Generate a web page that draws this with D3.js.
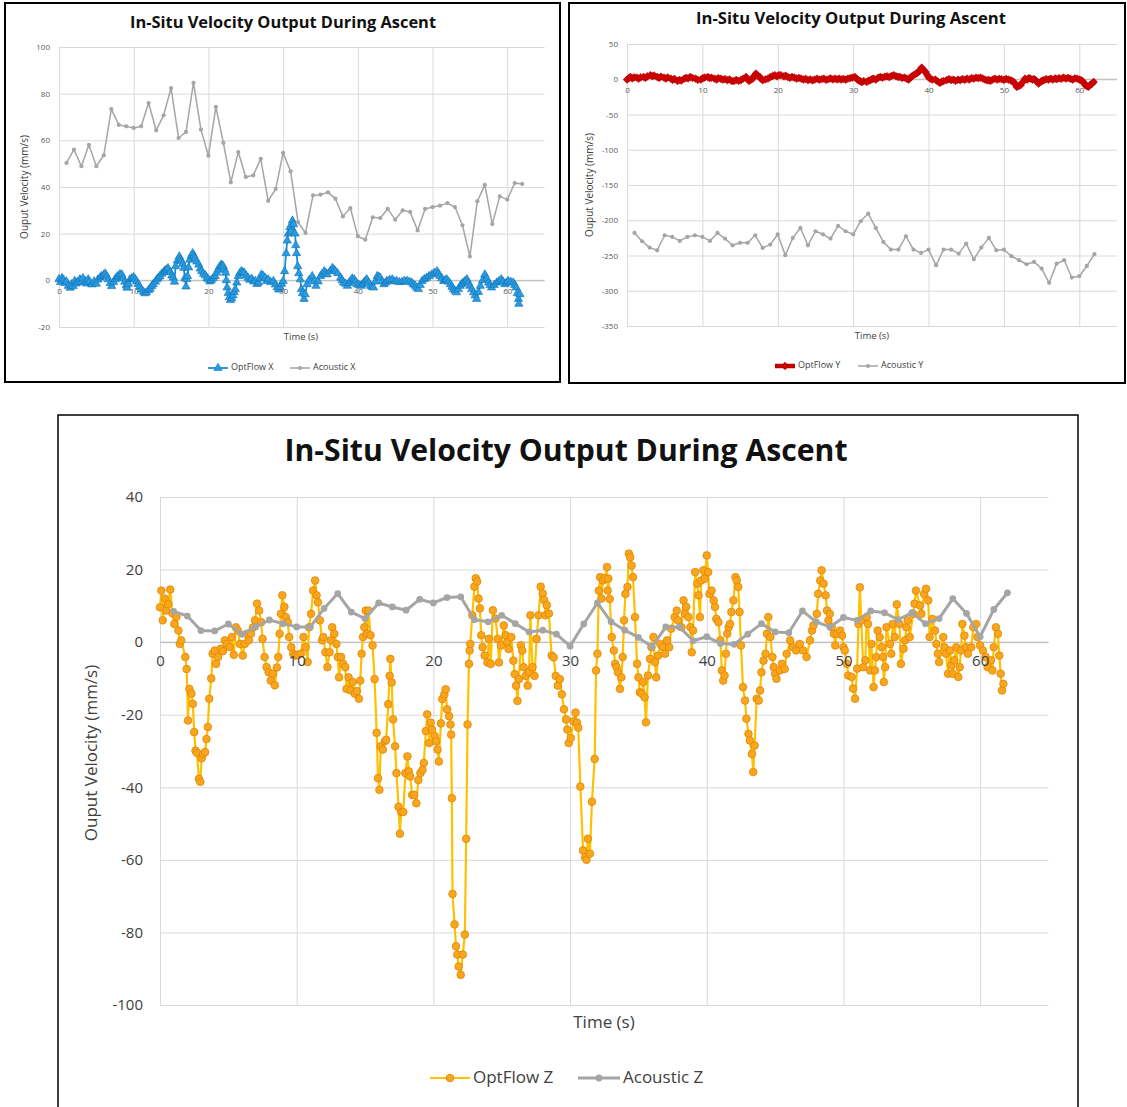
<!DOCTYPE html>
<html>
<head>
<meta charset="utf-8">
<script src="https://cdn.jsdelivr.net/npm/d3@7"></script>
<style>
body { margin: 0; background: #fff; }
text { font-family: "Open Sans", sans-serif; }
</style>
</head>
<body>
<div id="chart"></div>
<script>
// ---- data ----
var acousticTime = [1,2,3,4,5,6,7,8,9,10,11,12,13,14,15,16,17,18,19,20,21,22,23,24,25,26,27,28,29,30,
    31,32,33,34,35,36,37,38,39,40,41,42,43,44,45,46,47,48,49,50,51,52,53,54,55,56,57,58,59,60,61,62];

var acousticX = [50.3,56,48.9,58.1,48.9,53.6,73.4,66.6,66,65.3,66,76,64.3,70.7,82.4,61,63.6,84.6,64.6,53.4,
    74.3,58.9,42,55,44.3,45,52.1,34.1,39.1,54.6,46.7,24.9,20.3,36.4,36.7,37.7,35,27.4,31,18.9,
    17.4,27,26.7,30.6,26,30,29.3,21.4,30.6,31.4,32,33.1,31.4,23.6,10.3,33.9,40.9,24.1,36,34.6,41.7,41.3];

var acousticY = [-218,-229.8,-238.8,-242.6,-221.3,-223.6,-229.3,-223.6,-221.3,-223.6,
    -229.3,-218,-226,-235.5,-232,-232,-221.3,-239.2,-234.5,-219.9,
    -249.6,-225,-210.9,-235.5,-215.6,-219.9,-226,-208,-215.6,-219.9,
    -201.4,-190.5,-210.9,-230.7,-241.6,-241.6,-222.7,-241.6,-246.3,-241.6,
    -263.8,-241.6,-241.6,-247.3,-233.1,-255.3,-238.8,-225,-242.6,-241.6,
    -251,-256.7,-262.4,-259.1,-268.5,-288.7,-261.5,-256.7,-281.3,-279.4,-264.8,-248.2];

var acousticZ = [8.5,7.2,3.2,3.1,5,2.2,4.2,6.1,5.1,4.2,4.2,9.3,13.4,8.3,6.5,10.8,9.7,8.8,11.8,10.8,
    12.3,12.5,6.2,5.6,7.4,5.1,2.8,3.3,2.2,-1.1,5,10.8,5.6,3.3,1.3,-1.3,4.2,4.2,0.4,1.5,
    -0.4,-0.6,2.2,5.1,2.8,2.6,8.6,5.6,4.2,6.8,6,8.6,8.1,6.2,8.1,5.1,6.5,12,7.9,1.5,9,13.6];

// optical flow samples: [time (s), velocity (mm/s)]
var optFlowX = [[0,0.5],[0.2,-0.8],[0.4,1],[0.6,0.2],[0.8,-1.2],[1,-0.5],[1.25,-2.4],[1.5,-3.2],[1.7,-1.7],[1.9,-2.5],
    [2.1,-0.3],[2.3,-1.4],[2.5,-0.6],[2.8,0.4],[3,-0.9],[3.2,0.9],[3.5,-0.3],[3.7,-1.4],[3.9,0.4],[4.1,-0.6],
    [4.4,-1.8],[4.7,-0.5],[5,-1.5],[5.2,0.3],[5.5,1.2],[5.7,1.8],[6,2.4],[6.2,2.9],[6.4,1.6],[6.6,0.4],
    [6.85,-1.2],[7.05,-2.5],[7.3,-0.8],[7.5,0.4],[7.7,1.2],[7.9,1.8],[8.15,2.6],[8.4,2.5],[8.6,0.8],[8.8,-0.6],
    [9,-2.2],[9.1,-3.2],[9.3,-1.5],[9.5,0.4],[9.75,0.9],[10,1.3],[10.2,0.4],[10.4,-0.5],[10.6,-1.6],[10.8,-2.7],
    [11,-4],[11.3,-4.9],[11.5,-5.6],[11.7,-5.2],[12,-4.2],[12.2,-3.6],[12.4,-2.5],[12.6,-1.7],[12.9,-0.6],[13.1,0.4],
    [13.3,1.1],[13.5,1.8],[13.75,2.8],[14,3.5],[14.2,4.2],[14.4,4.6],[14.6,5.2],[14.9,3.5],[15.1,2],[15.3,1.1],
    [15.45,-0.6],[15.6,6],[15.85,8.5],[16.1,10.2],[16.25,9],[16.4,8.1],[16.55,7],[16.7,5.3],[16.85,1],[17,-2.7],
    [17.1,0.5],[17.2,1.8],[17.35,5.5],[17.5,8.8],[17.7,10.5],[17.9,11.6],[18.05,10.5],[18.2,9.5],[18.45,8],[18.7,6.7],
    [18.9,5],[19.1,3.9],[19.35,2.8],[19.6,2.1],[19.8,1],[20,0.4],[20.2,-0.5],[20.4,0.1],[20.65,1],[20.9,1.8],
    [21.1,3.3],[21.3,4.6],[21.5,5.8],[21.7,6.7],[21.85,6.3],[22,6],[22.15,4.5],[22.3,3.2],[22.4,0],[22.5,-3.1],
    [22.65,-5.5],[22.8,-7.3],[22.95,-8.5],[23.1,-7.7],[23.3,-6.5],[23.45,-5],[23.6,-3.8],[23.8,-1],[24,1.8],[24.2,3],
    [24.4,3.9],[24.6,3.5],[24.8,3.2],[25.05,2],[25.3,1.1],[25.55,0.2],[25.8,0.7],[26.05,-0.5],[26.3,-0.3],[26.5,-1.6],
    [26.7,-1],[26.9,0.8],[27.1,2.5],[27.35,1.8],[27.6,1.1],[27.8,-0.3],[28,0.4],[28.35,-0.8],[28.7,-0.3],[28.95,-1.8],
    [29.2,-3],[29.4,-4],[29.6,-3],[29.8,-1.5],[30,-0.3],[30.2,3.9],[30.4,11.6],[30.55,17],[30.7,20],[30.9,22.8],
    [31.05,21],[31.25,25.6],[31.4,24],[31.6,20],[31.7,15],[31.8,11.6],[31.95,6],[32.1,3],[32.3,0.4],[32.45,-3.8],
    [32.6,-5.5],[32.8,-8],[32.95,-6],[33.2,-1.7],[33.5,0.2],[33.9,1.8],[34.15,-0.5],[34.4,-2.4],[34.7,-0.5],[35,1.8],
    [35.25,2.8],[35.5,3.9],[35.7,3.2],[35.9,2.5],[36.3,4],[36.6,5.3],[36.8,4.6],[37,3.9],[37.3,3],[37.7,1.1],
    [37.9,0],[38.1,-1],[38.35,-1.5],[38.6,-2.4],[38.8,-1.2],[39,-0.3],[39.25,0.8],[39.5,0.4],[39.7,-0.6],[39.9,-1.7],
    [40.15,-2],[40.4,-2.4],[40.6,-1.8],[40.8,-1],[41,-0.2],[41.2,0.4],[41.45,-1],[41.7,-2.4],[41.9,-2.8],[42.1,-3.1],
    [42.35,-0.5],[42.6,1.8],[42.8,1.5],[43,1.1],[43.25,-0.5],[43.5,-1.7],[43.7,-1],[43.9,-0.3],[44.25,0.2],[44.6,0.4],
    [44.9,-0.5],[45.2,-0.3],[45.55,-0.8],[45.9,-0.7],[46.25,-0.2],[46.6,-0.3],[46.9,-0.6],[47.2,-1],[47.45,-1.8],[47.7,-2.4],
    [47.9,-3.2],[48.1,-3.8],[48.35,-2],[48.6,-0.3],[48.9,0.5],[49.2,1.1],[49.55,1.8],[49.9,2.5],[50.25,3.2],[50.6,3.9],
    [50.8,2.8],[51,1.8],[51.25,0.8],[51.5,-0.3],[51.7,0],[51.9,0.4],[52.15,-0.6],[52.4,-1.7],[52.6,-2.8],[52.8,-3.8],
    [53,-4.5],[53.2,-5.2],[53.45,-3.8],[53.7,-2.4],[53.9,-1.7],[54.1,-1],[54.35,-0.3],[54.6,0.4],[54.8,-1],[55,-2.4],
    [55.25,-3.8],[55.5,-5.2],[55.7,-6.5],[55.9,-8],[56.15,-5],[56.4,-2.4],[56.7,0],[57,2.5],[57.25,0.8],[57.5,-1],
    [57.7,-2],[57.9,-3.1],[58.25,-2],[58.6,-1],[58.9,-0.3],[59.2,0.4],[59.45,-0.6],[59.7,-1.7],[59.9,-1],[60.1,-0.3],
    [60.45,-0.6],[60.8,-1],[61,-2],[61.2,-3.1],[61.35,-5.5],[61.5,-8],[61.55,-10.1],[61.7,-6]];

var optFlowY = [[0,-0.5],[0.25,1.5],[0.45,3.3],[0.7,1.2],[0.95,2.8],[1.3,2.4],[1.55,0.8],[1.8,2.6],[2.2,3.3],[2.45,1.8],
    [2.7,4.2],[3.1,5.7],[3.35,4.5],[3.6,5.2],[4,3.3],[4.25,2],[4.5,3.6],[4.9,2.4],[5.15,1],[5.4,2.5],
    [5.8,0.9],[6.05,-0.8],[6.3,0.5],[6.7,-2.4],[6.95,-1],[7.2,-1.8],[7.6,0.9],[7.85,2],[8.1,1.2],[8.4,3.3],
    [8.7,1.8],[9.1,0.9],[9.4,-0.8],[9.8,-0.5],[10.05,1.5],[10.3,2.4],[10.7,3.3],[10.95,1.6],[11.2,2.2],[11.6,0.9],
    [11.9,-0.5],[12.1,1.5],[12.4,0.9],[12.7,-0.6],[13,0.3],[13.3,-1.4],[13.6,-0.2],[13.9,-2.6],[14.2,-2.4],[14.5,-1],
    [14.8,-2.2],[15.1,-1.4],[15.4,0.8],[15.8,3.3],[16,0],[16.2,-2.4],[16.45,-0.5],[16.7,0.9],[16.9,5],[17.1,8],
    [17.35,5.5],[17.6,3.3],[17.8,0.5],[18,-1.4],[18.35,-0.2],[18.7,0.9],[19,3],[19.3,4.5],[19.6,5.7],[19.9,4.2],
    [20.15,6],[20.4,5.7],[20.8,4.2],[21.05,5],[21.3,3.3],[21.6,2],[21.9,3.2],[22.2,2.4],[22.5,1],[22.8,1.8],
    [23.1,0.9],[23.4,-0.4],[23.7,0.6],[24,-1.4],[24.3,-0.3],[24.6,-1.6],[24.9,-0.5],[25.2,0.8],[25.5,-0.6],[25.8,0],
    [26.1,1],[26.4,-0.8],[26.7,0],[27,1.2],[27.3,-0.2],[27.6,0.9],[27.9,-0.3],[28.15,0.8],[28.4,-0.5],[28.7,0.5],
    [29,-0.6],[29.3,0.9],[29.6,1.5],[29.9,2.2],[30.2,3.3],[30.45,1],[30.7,-1.5],[30.9,-2.4],[31.15,-4.2],[31.4,-2.6],
    [31.8,-3.8],[32.05,-2],[32.3,-1.4],[32.5,0.3],[32.7,0.9],[33,-0.5],[33.3,2],[33.6,3.3],[33.9,2.2],[34.2,3.6],
    [34.5,4.2],[34.8,3],[35.1,4.8],[35.4,5.7],[35.7,4.2],[35.95,3.3],[36.2,3.3],[36.5,1.8],[36.8,2.4],[37.1,0.9],
    [37.35,-0.6],[37.6,2.4],[37.8,4],[38,5.7],[38.3,7.5],[38.5,9],[38.7,10.4],[38.9,13.5],[39.1,16.5],[39.35,13],
    [39.6,10.4],[39.8,6.5],[40,3],[40.2,0.9],[40.5,-0.5],[40.9,-0.5],[41.2,-3],[41.5,-5.2],[41.75,-3.5],[42,-2.6],
    [42.4,-1.4],[42.7,0.2],[43,-1.2],[43.3,-0.5],[43.6,-2.2],[43.9,-0.6],[44.2,-1.4],[44.5,0.3],[44.8,-0.8],[45.1,0.9],
    [45.4,-0.4],[45.7,1.6],[46,0.9],[46.3,2.2],[46.6,1.5],[46.9,2.4],[47.2,1],[47.5,-0.5],[47.8,-1.6],[48,-1],
    [48.2,-2.4],[48.5,-0.6],[48.8,0.9],[49.1,-0.5],[49.4,0.6],[49.7,0],[50,-1],[50.3,0.4],[50.6,-0.5],[50.9,-1.5],
    [51.1,-2.6],[51.3,-3.8],[51.5,-7],[51.7,-10.9],[51.95,-9.6],[52.2,-8.5],[52.5,-4],[52.8,0.9],[53.1,-0.4],[53.3,1.6],
    [53.5,0.9],[53.8,-0.5],[54,0.2],[54.2,-1.4],[54.4,-3.5],[54.6,-6.1],[54.9,-3.5],[55.1,-2],[55.3,-1.4],[55.6,0.2],
    [55.9,-0.6],[56.2,0.9],[56.5,-0.4],[56.8,1.2],[57,0],[57.3,1.5],[57.6,0.6],[57.9,2.4],[58.2,1],[58.5,2],
    [58.8,0.9],[59.1,-0.5],[59.4,1.2],[59.7,0.9],[60,-0.4],[60.2,-1.2],[60.4,-2.4],[60.6,-5],[60.8,-8.5],[61,-9.8],
    [61.2,-10.9],[61.45,-8],[61.7,-6.1],[61.9,-3.8]];

var optFlowZ = [[0,9.6],[0.1,14.2],[0.2,6],[0.35,12],[0.45,8.7],[0.6,10.5],[0.75,14.5],[0.9,8],[1.05,5],[1.2,7],
    [1.35,3.2],[1.45,-0.5],[1.55,0.5],[1.85,-4.1],[1.95,-7.4],[2.05,-21.6],[2.15,-12.9],[2.3,-14.2],[2.4,-17],[2.5,-24.8],
    [2.6,-29.9],[2.7,-30.5],[2.85,-37.7],[2.95,-38.5],[3.05,-32],[3.15,-30.8],[3.3,-30.3],[3.4,-26.7],[3.5,-23.4],[3.6,-15.6],
    [3.75,-10],[3.85,-3.2],[4,-2.3],[4.1,-6],[4.25,-4.1],[4.45,-1.8],[4.6,-2.5],[4.75,0.5],[4.9,-0.5],[5.1,-1.4],
    [5.25,1.4],[5.4,-3.5],[5.55,4.1],[5.7,3.2],[5.85,-0.5],[6.05,-3.7],[6.2,-0.5],[6.35,2.3],[6.5,0.5],[6.65,2.3],
    [6.8,4],[6.95,6],[7.1,10.6],[7.25,8.7],[7.4,5.5],[7.5,0.9],[7.65,-4.1],[7.8,-6.9],[7.95,-8.3],[8.1,-10.6],
    [8.25,-8.7],[8.4,-11.9],[8.55,-7],[8.65,-4.1],[8.75,2.3],[8.85,7.8],[8.95,12.9],[9.1,9.7],[9.2,6.9],[9.35,5.5],
    [9.45,1.4],[9.6,-1.4],[9.75,-3.2],[9.9,-3.7],[10.1,-3.5],[10.3,-3.2],[10.5,1.4],[10.65,-1.4],[10.8,-5.5],[10.9,4.1],
    [11.05,7.8],[11.2,14.2],[11.35,17],[11.45,12.9],[11.55,11],[11.7,6],[11.85,0.5],[11.95,1.4],[12.1,-2.8],[12.25,-6.9],
    [12.4,-2.8],[12.5,0.5],[12.6,4.1],[12.75,2.3],[12.9,-0.5],[13,-4.1],[13.1,-9.7],[13.25,-4.1],[13.4,-6],[13.55,-6.9],
    [13.65,-12.9],[13.8,-9.7],[13.95,-13.3],[14.1,-11],[14.25,-14.2],[14.4,-13.5],[14.55,-15.6],[14.65,-10.6],[14.75,-3.2],[14.85,1.4],
    [14.95,4.1],[15.05,8.7],[15.15,2.3],[15.25,8.7],[15.4,1.9],[15.55,-0.9],[15.7,-10.2],[15.85,-25],[15.95,-37.5],[16.05,-40.7],
    [16.15,-28.7],[16.3,-29.6],[16.45,-27.3],[16.55,-26.9],[16.7,-17.1],[16.8,-9.3],[16.85,-4.6],[16.95,-11.1],[17.05,-21.3],[17.2,-28.7],
    [17.3,-36.1],[17.45,-45.4],[17.55,-52.8],[17.65,-46.8],[17.8,-46.8],[17.95,-36.1],[18.1,-31.5],[18.2,-35.6],[18.3,-37],[18.45,-42.1],
    [18.6,-42.1],[18.75,-44.4],[18.9,-38],[19.05,-36.1],[19.2,-35.2],[19.3,-33.3],[19.45,-24.5],[19.55,-19.9],[19.7,-27.8],[19.8,-22.2],
    [19.9,-24.1],[20.1,-25.9],[20.2,-27.3],[20.3,-29.6],[20.4,-32.9],[20.55,-22.4],[20.65,-15.7],[20.8,-14.4],[20.9,-13],[21,-18.5],
    [21.15,-20.4],[21.25,-22.7],[21.3,-25.5],[21.35,-43],[21.4,-69.4],[21.55,-77.8],[21.65,-83.8],[21.75,-86.1],[21.85,-89.4],[22,-91.7],
    [22.15,-86.1],[22.3,-80.6],[22.4,-54.2],[22.5,-22.7],[22.6,-6],[22.65,-2.3],[22.7,-0.5],[22.85,7.4],[23,15.3],[23.1,17.6],
    [23.2,16.7],[23.3,12],[23.4,9.3],[23.5,1.9],[23.6,-1.4],[23.75,-3.7],[23.95,-5.6],[24.05,0.9],[24.2,-6],[24.35,8.8],
    [24.55,6.5],[24.7,0.9],[24.8,-5.6],[24.95,-0.9],[25.15,4.6],[25.3,1.9],[25.4,0],[25.5,-1.9],[25.7,1.4],[25.85,-5.1],
    [25.95,-8.8],[26.05,-12],[26.15,-16.2],[26.25,-10.2],[26.4,-0.9],[26.5,-2.3],[26.6,-6.9],[26.75,-9.3],[26.9,-12],[27,-8.3],
    [27.1,7.4],[27.25,-6.9],[27.4,-9.3],[27.55,0.9],[27.7,7.4],[27.85,15.3],[28,13.4],[28.1,11.6],[28.2,7.4],[28.3,10.2],
    [28.45,7.9],[28.65,-3.7],[28.8,-4.2],[28.95,-9.3],[29.1,-12],[29.25,-10.2],[29.4,-14.4],[29.55,-18.5],[29.7,-21.3],[29.8,-24.1],
    [29.9,-27.8],[30.05,-26.4],[30.25,-21.8],[30.4,-19.4],[30.5,-22.2],[30.6,-23.6],[30.75,-39.8],[30.95,-57.4],[31.1,-59.3],[31.2,-60],
    [31.3,-54.2],[31.45,-58.3],[31.6,-44],[31.8,-32.2],[31.9,-7.8],[32,-3.2],[32.1,14.2],[32.2,17.9],[32.3,12],[32.4,17],
    [32.55,17.6],[32.7,20.7],[32.75,14.2],[32.8,17.5],[32.9,11.9],[33.05,1.4],[33.2,-2.3],[33.3,-6],[33.4,-6.9],[33.5,-8.3],
    [33.65,-12.9],[33.75,-9.7],[33.85,-4.1],[33.95,6],[34.05,13.3],[34.2,15.2],[34.3,24.4],[34.4,23.4],[34.5,21.1],[34.6,17.9],
    [34.75,6.9],[34.9,-6],[35,-9.7],[35.1,-13.8],[35.25,-14.2],[35.35,-11],[35.45,-15.2],[35.55,-22.1],[35.7,-9.2],[35.85,-4.6],
    [35.95,-1.4],[36.1,1.4],[36.2,-5.5],[36.3,-9.7],[36.45,-3.7],[36.6,-0.5],[36.8,-1.4],[36.95,-3.2],[37.1,0.5],[37.25,-1.4],
    [37.4,3.7],[37.65,6.9],[37.8,8.7],[37.9,6],[38.15,4.1],[38.3,11.5],[38.4,7.8],[38.5,9.7],[38.65,6.9],[38.8,4.1],
    [38.9,-2.8],[39,3.2],[39.15,19.3],[39.3,16.1],[39.4,12.9],[39.5,6.9],[39.6,17],[39.75,19.8],[39.85,17.5],[40,23.9],
    [40.1,19.3],[40.2,13.3],[40.35,14.2],[40.5,11.5],[40.6,9.7],[40.7,6.4],[40.85,5.5],[41,0.5],[41.1,-7.8],[41.2,-10.6],
    [41.3,-9.2],[41.4,-3.2],[41.5,2.3],[41.6,4.1],[41.7,5],[41.8,8.3],[41.95,11.5],[42.1,17.9],[42.2,17],[42.3,15.2],
    [42.4,8.3],[42.5,-0.9],[42.65,-12.4],[42.8,-16.1],[42.9,-21.1],[43.05,-25.3],[43.15,-27.1],[43.3,-30.8],[43.4,-35.8],[43.5,-28.5],
    [43.65,-15.6],[43.8,-16.1],[43.9,-13.3],[44,-8.3],[44.15,-5.1],[44.3,-3.2],[44.4,2.3],[44.5,6.9],[44.65,1.4],[44.8,-4.1],
    [44.9,-6.9],[45,-8.7],[45.1,-10.1],[45.35,-7.8],[45.5,-6],[45.7,-7.4],[45.85,-3.2],[46.1,0.5],[46.3,-1.4],[46.55,-2.3],
    [46.8,-0.5],[47.05,-2.3],[47.3,-4.1],[47.55,0.5],[47.7,3.2],[47.8,4.6],[48.05,7.8],[48.15,13.3],[48.3,17],[48.4,19.8],
    [48.55,16.1],[48.7,12.9],[48.8,8.7],[48.9,6],[49,7.8],[49.15,4.1],[49.3,2.3],[49.4,-0.9],[49.5,2.3],[49.75,3.2],
    [49.9,1.8],[50,-1.4],[50.1,-2.3],[50.25,-6],[50.35,-9.2],[50.6,-9.6],[50.7,-12.8],[50.85,-15.6],[51,-7.3],[51.1,5],
    [51.2,15.1],[51.3,6],[51.45,-6.9],[51.6,-5],[51.7,6.9],[51.8,5],[51.95,-7.8],[52.05,-0.5],[52.2,-12.4],[52.3,-7.8],
    [52.4,-4.1],[52.5,3.2],[52.65,1.4],[52.8,-1.4],[52.9,-4.1],[52.95,-11],[53.05,-6.9],[53.15,4.1],[53.4,-0.5],[53.5,-3.2],
    [53.6,5],[53.75,1.4],[53.9,10.4],[54.1,5],[54.2,-6],[54.4,-1.8],[54.5,0.5],[54.6,4.1],[54.7,6],[54.85,1.4],
    [55.1,7.8],[55.2,10.6],[55.3,14.2],[55.6,10.1],[55.7,7.8],[55.9,13.3],[56.05,14.7],[56.2,11.5],[56.3,1.4],[56.5,6.4],
    [56.7,3.2],[56.8,-0.5],[56.9,-3.2],[57,-5.5],[57.3,1.4],[57.4,-1.4],[57.5,-3.2],[57.65,-8.7],[57.8,-2.3],[57.9,-6.4],
    [58,-8.7],[58.1,-5],[58.25,-1.4],[58.4,-9.6],[58.5,-6.9],[58.6,-2.3],[58.7,5],[58.85,1.8],[58.95,-1.4],[59.1,-3.2],
    [59.35,-1.4],[59.5,4.1],[59.7,5],[59.8,1.4],[60,-0.9],[60.2,-2.3],[60.4,-4.1],[60.55,-6.9],[60.8,-5],[60.9,-7.8],
    [61,-1.4],[61.15,4.1],[61.3,2.3],[61.4,-3.7],[61.5,-8.7],[61.6,-13.3],[61.7,-11.5]];

var timeTicks = [0,10,20,30,40,50,60];
var yTicksX = [-20,0,20,40,60,80,100];
var yTicksY = [-350,-300,-250,-200,-150,-100,-50,0,50];
var yTicksZ = [-100,-80,-60,-40,-20,0,20,40];

var chartTitle = 'In-Situ Velocity Output During Ascent';
var xTitle = 'Time (s)';
var yTitle = 'Ouput Velocity (mm/s)';

// ---- drawing ----
var svg = d3.select('#chart').append('svg')
    .attr('width', 1127)
    .attr('height', 1107);

var symbols = {circle: d3.symbolCircle, triangle: d3.symbolTriangle, diamond: d3.symbolSquare};

// plain hyphen for negatives, like the original
function plain(d) { return String(d); }

function drawMarkers(g, pts, st) {
    g.selectAll(null).data(pts).enter().append('path')
        .attr('d', d3.symbol().type(symbols[st.shape]).size(st.size))
        .attr('transform', function(d) {
            return 'translate(' + d[0] + ',' + d[1] + ')' + (st.shape == 'diamond' ? ' rotate(45)' : '');
        })
        .attr('fill', st.fill)
        .attr('stroke', st.stroke)
        .attr('stroke-width', st.sw);
}

function drawSeries(g, x, y, pts, st) {
    var line = d3.line().x(function(d) { return x(d[0]); }).y(function(d) { return y(d[1]); });
    g.append('path').datum(pts)
        .attr('d', line)
        .attr('fill', 'none')
        .attr('stroke', st.color)
        .attr('stroke-width', st.width)
        .attr('stroke-linejoin', 'round');
    drawMarkers(g, pts.map(function(d) { return [x(d[0]), y(d[1])]; }), st);
}

function drawPanel(p) {
    var g = svg.append('g');
    g.append('rect')
        .attr('x', p.box[0]).attr('y', p.box[1])
        .attr('width', p.box[2]).attr('height', p.box[3])
        .attr('fill', '#fff').attr('stroke', '#000').attr('stroke-width', p.border);

    var x = d3.scaleLinear().domain([0, 65]).range([p.left, p.right]);
    var y = d3.scaleLinear().domain(p.yDomain).range([p.bottom, p.top]);

    // horizontal grid + y labels
    var ya = g.append('g')
        .attr('transform', 'translate(' + p.left + ',0)')
        .call(d3.axisLeft(y).tickValues(p.yTicks).tickFormat(plain)
            .tickSize(-(p.right - p.left)).tickPadding(p.yPad));
    ya.select('.domain').remove();
    ya.selectAll('line').attr('stroke', function(d) { return d === 0 ? '#bfbfbf' : '#d9d9d9'; });
    ya.selectAll('text').attr('font-size', p.tickFont).attr('fill', p.tickColor)
        .attr('font-family', '"Open Sans", sans-serif');

    // vertical grid
    var xg = g.append('g')
        .attr('transform', 'translate(0,' + p.bottom + ')')
        .call(d3.axisBottom(x).tickValues(timeTicks).tickSize(-(p.bottom - p.top)).tickFormat(''));
    xg.select('.domain').remove();
    xg.selectAll('line').attr('stroke', '#d9d9d9');

    // zero line on top of the vertical grid
    g.append('line')
        .attr('x1', p.left).attr('x2', p.right)
        .attr('y1', y(0)).attr('y2', y(0))
        .attr('stroke', '#bfbfbf');

    var sg = g.append('g');
    drawSeries(sg, x, y, p.opt.data, p.opt);
    drawSeries(sg, x, y, d3.zip(acousticTime, p.ac.data), p.ac);

    // x labels sit just below the zero line
    var xa = g.append('g')
        .attr('transform', 'translate(0,' + y(0) + ')')
        .call(d3.axisBottom(x).tickValues(timeTicks).tickFormat(plain).tickSize(0).tickPadding(p.xPad));
    xa.select('.domain').remove();
    xa.selectAll('text').attr('font-size', p.tickFont).attr('fill', p.tickColor)
        .attr('font-family', '"Open Sans", sans-serif');

    // titles
    g.append('text')
        .attr('x', p.title[0]).attr('y', p.title[1])
        .attr('text-anchor', 'middle')
        .attr('font-size', p.title[2]).attr('font-weight', 'bold')
        .attr('textLength', p.title[3]).attr('lengthAdjust', 'spacingAndGlyphs')
        .attr('fill', '#111')
        .text(chartTitle);
    g.append('text')
        .attr('x', p.xt[0]).attr('y', p.xt[1])
        .attr('text-anchor', 'middle').attr('dominant-baseline', 'middle')
        .attr('font-size', p.xt[2]).attr('fill', '#404040')
        .text(xTitle);
    g.append('text')
        .attr('transform', 'translate(' + p.yt[0] + ',' + p.yt[1] + ') rotate(-90)')
        .attr('text-anchor', 'middle').attr('dominant-baseline', 'middle')
        .attr('font-size', p.yt[2]).attr('fill', '#404040')
        .text(yTitle);

    // legend
    var lg = g.append('g');
    [p.opt, p.ac].forEach(function(st, i) {
        var l = p.legend[i];
        lg.append('line')
            .attr('x1', l[0]).attr('x2', l[1]).attr('y1', p.legendY).attr('y2', p.legendY)
            .attr('stroke', st.color).attr('stroke-width', st.width);
        drawMarkers(lg, [[(l[0] + l[1]) / 2, p.legendY]], st);
        lg.append('text')
            .attr('x', l[1] + 3).attr('y', p.legendY)
            .attr('dominant-baseline', 'middle')
            .attr('font-size', p.legendFont).attr('fill', '#404040')
            .text(st.name);
    });
}

var acSmall = {color: '#a5a5a5', width: 1.5, shape: 'circle', size: 14, fill: '#a5a5a5', stroke: 'none', sw: 0};

drawPanel({
    box: [5, 3, 555, 379], border: 2,
    left: 59, right: 544.6, top: 47, bottom: 327,
    yDomain: [-20, 100], yTicks: yTicksX, yPad: 9, xPad: 8,
    tickFont: 8, tickColor: '#595959',
    title: [283, 28, 16, 306], xt: [301, 337, 9.5], yt: [25, 187, 10],
    legend: [[208, 228], [290, 310]], legendY: 368, legendFont: 9,
    opt: {name: 'OptFlow X', data: optFlowX, color: '#1a8fd6', width: 1.8, shape: 'triangle', size: 30,
          fill: '#2b9be0', stroke: '#0b72b8', sw: 0.6},
    ac: Object.assign({name: 'Acoustic X', data: acousticX}, acSmall)
});

drawPanel({
    box: [569, 3, 556, 380], border: 2,
    left: 627, right: 1117, top: 44, bottom: 326,
    yDomain: [-350, 50], yTicks: yTicksY, yPad: 9, xPad: 8,
    tickFont: 8, tickColor: '#595959',
    title: [851, 24, 16, 310], xt: [872, 336, 9.5], yt: [590, 185, 10],
    legend: [[775, 795], [858, 878]], legendY: 366, legendFont: 9,
    opt: {name: 'OptFlow Y', data: optFlowY, color: '#c00000', width: 4.5, shape: 'diamond', size: 30,
          fill: '#d00000', stroke: '#b00000', sw: 0.5},
    ac: Object.assign({name: 'Acoustic Y', data: acousticY}, acSmall)
});

drawPanel({
    box: [58, 415, 1020, 720], border: 1.5,
    left: 160, right: 1048.5, top: 497, bottom: 1005,
    yDomain: [-100, 40], yTicks: yTicksZ, yPad: 17, xPad: 13,
    tickFont: 15, tickColor: '#404040',
    title: [566, 461, 31, 563], xt: [604, 1023, 17], yt: [92, 753, 17],
    legend: [[430, 470], [578, 620]], legendY: 1078, legendFont: 17,
    opt: {name: 'OptFlow Z', data: optFlowZ, color: '#ffc000', width: 2.2, shape: 'circle', size: 46,
          fill: '#f9a51e', stroke: '#e08600', sw: 0.8},
    ac: {name: 'Acoustic Z', data: acousticZ, color: '#a5a5a5', width: 3, shape: 'circle', size: 36,
         fill: '#a5a5a5', stroke: 'none', sw: 0}
});
</script>
</body>
</html>
